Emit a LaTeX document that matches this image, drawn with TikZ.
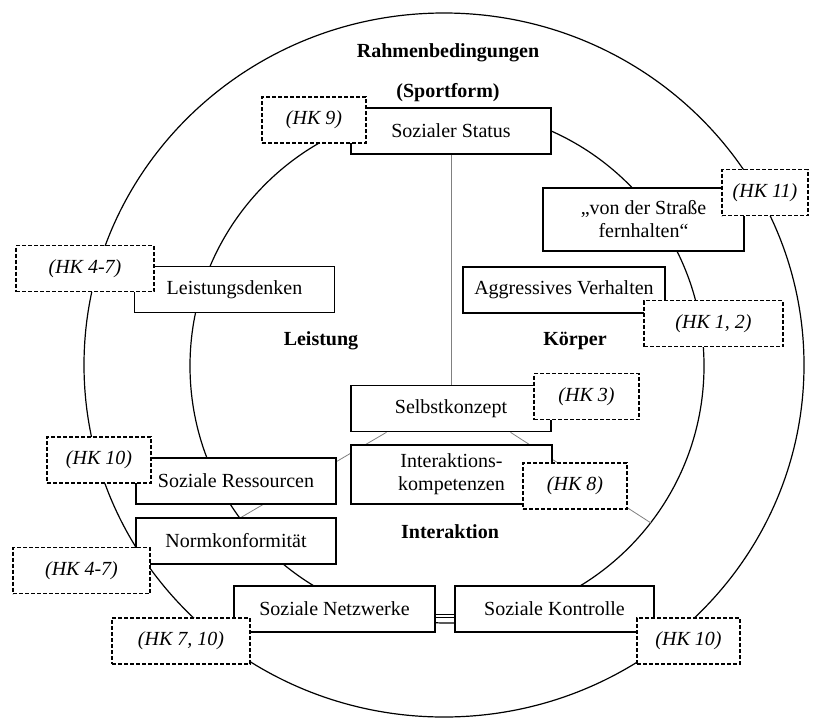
\documentclass[tikz,border=0pt]{standalone}
\usepackage{fontspec}
\setmainfont{Liberation Serif}
\usetikzlibrary{backgrounds,calc}
\begin{document}
\begin{tikzpicture}[x=0.5pt,y=-0.5pt,
  box/.style={draw=black, line width=0.8pt, fill=white, minimum width=100pt, minimum height=23pt, inner sep=0pt, align=center, font=\fontsize{10}{11.5}\selectfont},
  hk/.style={draw=black, line width=0.7pt, dash pattern=on 2pt off 1pt, fill=white, minimum height=23pt, inner sep=0pt, font=\itshape\fontsize{10}{12}\selectfont},
  lbl/.style={font=\bfseries\fontsize{10}{12}\selectfont, inner sep=0pt},
  ring/.style={draw=black, line width=0.6pt},
  divider/.style={draw=gray, line width=0.4pt}]
\useasboundingbox (0,0) rectangle (813,718);

% solid boxes
\node[box] (status) at (451,131) {Sozialer Status};
\node[box, minimum width=100.5pt, minimum height=31.5pt] (strasse) at (643.5,219.5) {„von der Straße\\fernhalten“};
\node[box] (leist) at (234.5,289.5) {Leistungsdenken};
\node[box, minimum width=101pt] (aggr) at (564,290) {Aggressives Verhalten};
\node[box] (selbst) at (451,408.5) {Selbstkonzept};
\node[box, minimum width=100.5pt, minimum height=29.5pt] (inter) at (451.5,474.5) {Interaktions-\\kompetenzen};
\node[box] (ress) at (236,481) {Soziale Ressourcen};
\node[box] (norm) at (236,541) {Normkonformität};
\node[box, minimum width=100.5pt] (netz) at (334.5,609) {Soziale Netzwerke};
\node[box, minimum width=99.5pt] (kontr) at (554.5,609) {Soziale Kontrolle};

% rings and dividers behind the boxes
\begin{scope}[on background layer]
  \draw[ring] (444,365) ellipse [x radius=180pt, y radius=176pt];
  \draw[ring] (447,366) circle [radius=128.5pt];
  \coordinate (sl) at ($(selbst.south west)!0.18!(selbst.south east)$);
  \coordinate (sr) at ($(selbst.south west)!0.795!(selbst.south east)$);
  \coordinate (dl) at (240,518);
  \coordinate (dr) at (651,523);
  \draw[divider] (sl) -- (dl);
  \draw[divider] (sr) -- (dr);
\end{scope}
\draw[divider] (status.south) -- (selbst.north);
\draw[double, double distance=1.2pt, line width=0.4pt] ([yshift=-3.5pt]netz.east) -- ([yshift=-3.5pt]kontr.west);

% dashed reference boxes
\node[hk, minimum width=52pt] (hk9) at (314,120) {(HK 9)};
\node[hk, minimum width=43pt] (hk11) at (765,192.5) {(HK 11)};
\node[hk, minimum width=69pt] (hk47a) at (85,268.5) {(HK 4-7)};
\node[hk, minimum width=69.5pt] (hk12) at (713.5,323.5) {(HK 1, 2)};
\node[hk, minimum width=52.5pt] (hk3) at (586.5,396.5) {(HK 3)};
\node[hk, minimum width=52pt] (hk8) at (575,486) {(HK 8)};
\node[hk, minimum width=52pt] (hk10a) at (99,460) {(HK 10)};
\node[hk, minimum width=68.5pt] (hk47b) at (81.5,570.5) {(HK 4-7)};
\node[hk, minimum width=69pt] (hk710) at (181,641) {(HK 7, 10)};
\node[hk, minimum width=51.5pt] (hk10b) at (688.5,641) {(HK 10)};

% labels
\node[lbl] (rahmen) at (448,53) {Rahmenbedingungen};
\node[lbl] (sport) at (448,93) {(Sportform)};
\node[lbl] (leistung) at (321,341) {Leistung};
\node[lbl] (koerper) at (575,341) {Körper};
\node[lbl] (interaktion) at (450,532) {Interaktion};
\end{tikzpicture}
\end{document}
